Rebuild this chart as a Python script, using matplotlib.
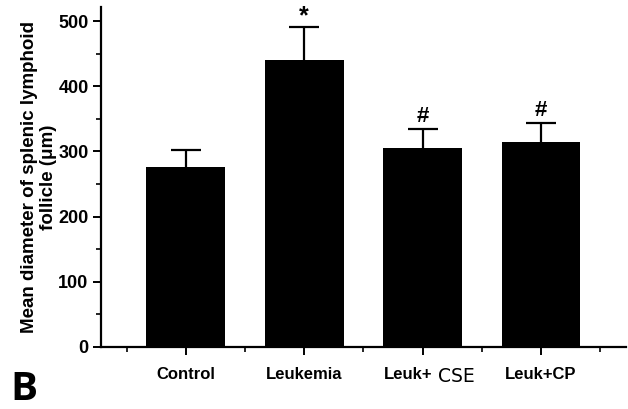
import numpy as np
import matplotlib
matplotlib.use("Agg")
import matplotlib.pyplot as plt
from matplotlib.ticker import MultipleLocator, FixedLocator

plt.rcParams['font.family'] = ['Liberation Sans', 'DejaVu Sans']

groups = ["Control", "Leukemia", "Leuk+ CSE", "Leuk+CP"]
means = [276, 440, 305, 314]
errs = [26, 51, 29, 30]
marks = ["", "*", "#", "#"]

fig = plt.figure(figsize=(6.28, 4.09), dpi=100)
ax = fig.add_axes([0.161, 0.152, 0.836, 0.831])

x = np.arange(len(groups))
ax.bar(x, means, width=0.665, color="black", zorder=2)
_, caps, _ = ax.errorbar(x, means, yerr=[np.zeros(len(errs)), errs], fmt="none",
                         ecolor="black", elinewidth=1.6, capsize=10.5,
                         capthick=1.6, zorder=1)
# only the upper caps are wanted
caps[0].set_visible(False)

for xi, m, e, s in zip(x, means, errs, marks):
    if s == "*":
        ax.text(xi, m + e - 2, s, ha="center", va="bottom",
                fontsize=18, fontweight="bold")
    elif s:
        ax.text(xi, m + e + 3, s, ha="center", va="bottom",
                fontsize=16, fontweight="bold")

ax.set_xlim(-0.716, 3.72)
ax.set_ylim(0, 522)

ax.spines["top"].set_visible(False)
ax.spines["right"].set_visible(False)
ax.spines["left"].set_linewidth(1.6)
ax.spines["bottom"].set_linewidth(1.6)

ax.yaxis.set_major_locator(MultipleLocator(100))
ax.yaxis.set_minor_locator(MultipleLocator(50))
ax.xaxis.set_major_locator(FixedLocator(x))
ax.xaxis.set_minor_locator(FixedLocator(np.arange(-0.5, 4, 1.0)))
ax.tick_params(axis="both", which="major", length=6, width=1.4, labelsize=13)
ax.tick_params(axis="both", which="minor", length=3.5, width=1.2)
ax.tick_params(axis="y", pad=3)
for lab in ax.get_yticklabels():
    lab.set_fontweight("bold")

# tick labels; the CSE part is set in a plain, larger face
ax.set_xticklabels(["" for _ in groups])
ytxt = -42
for xi, g in zip(x, groups):
    if g == "Leuk+ CSE":
        ax.text(xi + 0.08, ytxt, "Leuk+", ha="right", va="center",
                fontsize=12, fontweight="bold")
        ax.text(xi + 0.08, ytxt - 3, " CSE", ha="left", va="center",
                fontsize=13.5, fontfamily="DejaVu Sans")
    else:
        ax.text(xi, ytxt, g, ha="center", va="center",
                fontsize=12, fontweight="bold")

ax.set_ylabel("Mean diameter of splenic lymphoid\nfollicle (\u03bcm)",
              fontsize=13.5, fontweight="bold", labelpad=1, linespacing=1.12)

fig.text(0.016, 0.022, "B", fontsize=29, fontweight="bold",
         fontfamily="Open Sans", ha="left", va="baseline")

fig.savefig("out.png", dpi=100)
